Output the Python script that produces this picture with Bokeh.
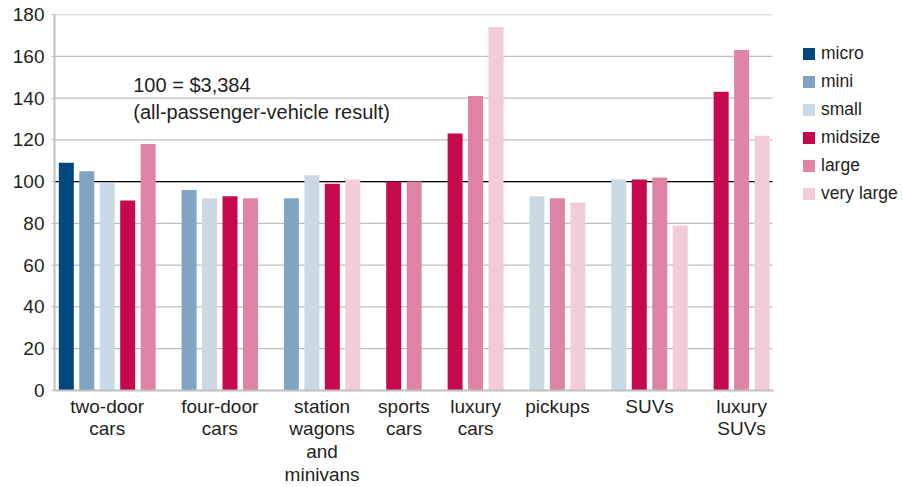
from bokeh.plotting import figure
from bokeh.models import Range1d, FixedTicker, Legend, LegendItem, Label
from bokeh.embed import file_html
from bokeh.resources import INLINE

# ---- data ----
categories = ["two-door cars", "four-door cars", "station wagons and minivans",
              "sports cars", "luxury cars", "pickups", "SUVs", "luxury SUVs"]
category_labels = ["two-door\ncars", "four-door\ncars", "station\nwagons\nand\nminivans",
                   "sports\ncars", "luxury\ncars", "pickups", "SUVs", "luxury\nSUVs"]
series_names = ["micro", "mini", "small", "midsize", "large", "very large"]
micro      = [109,  None, None, None, None, None, None, None]
mini       = [105,  96,   92,   None, None, None, None, None]
small      = [99.5, 92,   103,  None, None, 93,   101,  None]
midsize    = [91,   93,   99,   100,  123,  None, 101,  143]
large      = [118,  92,   None, 100,  141,  92,   102,  163]
very_large = [None, None, 101,  None, 174,  90,   79,   122]
series_values = [micro, mini, small, midsize, large, very_large]
series_colors = ["#00487f", "#80a4c1", "#cbd9e4", "#c6084f", "#e084a7", "#f3ccda"]
y_ticks = [0, 20, 40, 60, 80, 100, 120, 140, 160, 180]
reference_value = 100
note_text = "100 = $3,384\n(all-passenger-vehicle result)"

# ---- slot layout: bars only where data exist, one empty slot between groups ----
slot = 0
bar_x = {s: [] for s in series_names}
bar_top = {s: [] for s in series_names}
centers = []
for ci, cat in enumerate(categories):
    used = []
    for s, vals in zip(series_names, series_values):
        v = vals[ci]
        if v is not None:
            bar_x[s].append(slot)
            bar_top[s].append(v)
            used.append(slot)
            slot += 1
    centers.append(sum(used) / len(used))
    slot += 1

TEXT = "#231f20"
FONT = "Liberation Sans"
GRID = "#bfbfbf"

# plotting area (bars region) in data units; frame extends further so legend
# and category labels can be drawn inside it
X_LO, X_HI = -0.577, 34.51
px_per_x = 718 / (X_HI - X_LO)
px_per_y = 376 / 180.0

p = figure(width=903, height=487, output_backend="svg", toolbar_location=None,
           x_range=Range1d(X_LO, X_LO + 849 / px_per_x),
           y_range=Range1d(180 - 473 / px_per_y, 180),
           min_border_left=54, min_border_right=0, min_border_top=14, min_border_bottom=0)
p.outline_line_color = None
p.background_fill_color = "white"
p.border_fill_color = "white"
p.xgrid.grid_line_color = None
p.ygrid.grid_line_color = None
p.xaxis.visible = False

# horizontal grid lines over the bar region
grid_y = [t for t in y_ticks if t != 0]
p.segment(x0=[X_LO] * len(grid_y), x1=[X_HI] * len(grid_y), y0=grid_y, y1=grid_y,
          line_color=GRID, line_width=1.3)
# reference line at 100
p.segment(x0=[X_LO], x1=[X_HI], y0=[reference_value], y1=[reference_value],
          line_color="black", line_width=1.4)

renderers = []
for s, c in zip(series_names, series_colors):
    r = p.vbar(x=bar_x[s], top=bar_top[s], bottom=0, width=0.733,
               fill_color=c, line_color=None)
    renderers.append(r)

# category axis line at 0
p.segment(x0=[X_LO], x1=[X_HI + 0.05], y0=[0], y1=[0], line_color=GRID, line_width=2.2)

# category labels
p.text(x=centers, y=[0] * len(centers), text=category_labels, y_offset=5,
       text_align="center", text_baseline="top", text_font={"value": FONT},
       text_font_size={"value": "19px"}, text_color=TEXT, text_line_height=1.09)

yax = p.yaxis[0]
yax.ticker = FixedTicker(ticks=y_ticks)
yax.bounds = (0, 180)
yax.axis_line_color = GRID
yax.axis_line_width = 2
yax.major_tick_line_color = GRID
yax.major_tick_out = 3
yax.major_tick_in = 0
yax.minor_tick_line_color = None
yax.major_label_standoff = 7
yax.major_label_text_font = FONT
yax.major_label_text_font_size = "19px"
yax.major_label_text_color = TEXT

p.add_layout(Label(x=3.27, y=151.5, text=note_text, text_font=FONT,
                   text_font_size="20px", text_color=TEXT, text_align="left",
                   text_baseline="top", text_line_height=1.21))

legend = Legend(items=[LegendItem(label=s, renderers=[r]) for s, r in zip(series_names, renderers)],
                location=(747, 283), orientation="vertical",
                border_line_color=None, background_fill_alpha=0,
                glyph_width=15, glyph_height=15, label_height=20,
                label_standoff=5, spacing=7, padding=0, margin=0,
                label_text_font=FONT, label_text_font_size="17.5px", label_text_color=TEXT)
p.add_layout(legend)

open("out.html", "w").write(file_html(p, INLINE))
